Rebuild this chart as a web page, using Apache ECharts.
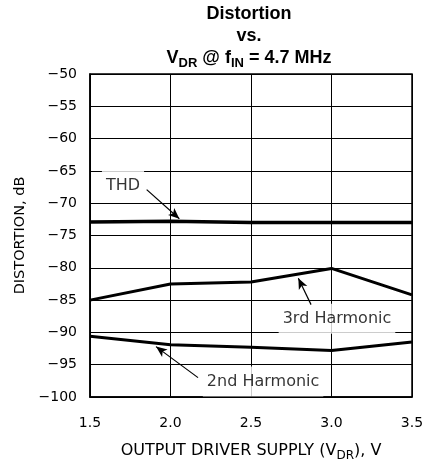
<!DOCTYPE html>
<html>
<head>
<meta charset="utf-8">
<script src="https://cdn.jsdelivr.net/npm/echarts@6/dist/echarts.min.js"></script>
<style>
  html, body { margin: 0; padding: 0; background: #fff; }
  #showChart { width: 427px; height: 472px; }
</style>
</head>
<body>
<div id="showChart"></div>
<script>
// supply voltage, V
var supply = [1.5, 2.0, 2.5, 3.0, 3.5];
// distortion, dB
var thd = [-72.9, -72.8, -73.0, -73.0, -73.0];
var harm3 = [-85.0, -82.5, -82.2, -80.1, -84.2];
var harm2 = [-90.6, -91.9, -92.3, -92.8, -91.5];

// curve labels and their arrows (tail -> head), in data units
var noteText = ['THD', '3rd Harmonic', '2nd Harmonic'];
var noteAt = [[1.705, -67.3], [3.034, -87.9], [2.575, -97.6]];
var arrowFrom = [[1.852, -67.9], [2.873, -85.7], [2.171, -97.0]];
var arrowTo = [[2.055, -72.4], [2.794, -81.6], [1.91, -92.2]];

var axisFont = 'DejaVu Sans';

function pairs(xs, ys) {
    return xs.map(function (x, i) { return [x, ys[i]]; });
}

var arrows = arrowFrom.map(function (p, i) {
    return [{coord: p}, {coord: arrowTo[i]}];
});

var option1 = {
    animation: false,
    title: {
        left: 249,
        textAlign: 'center',
        top: 3,
        padding: 0,
        text: '{b|Distortion}\n{b|vs.}\n{b|V}{s|DR}{b| @ f}{s|IN}{b| = 4.7 MHz}',
        textStyle: {
            rich: {
                b: {fontFamily: 'Liberation Sans', fontWeight: 'bold', fontSize: 18, lineHeight: 22, color: '#000'},
                s: {fontFamily: 'Liberation Sans', fontWeight: 'bold', fontSize: 13, lineHeight: 22, color: '#000', padding: [10, 0, 0, 0]}
            }
        }
    },
    grid: {
        left: 90, right: 15, top: 74, bottom: 75,
        show: true, borderColor: '#000', borderWidth: 1.5
    },
    xAxis: {
        type: 'value',
        min: 1.5, max: 3.5, interval: 0.5,
        name: '{n|OUTPUT DRIVER SUPPLY (V}{s|DR}{n|), V}',
        nameLocation: 'middle',
        nameGap: 44,
        nameTextStyle: {
            rich: {
                n: {fontFamily: axisFont, fontSize: 16, color: '#000', lineHeight: 20},
                s: {fontFamily: axisFont, fontSize: 12, color: '#000', lineHeight: 20, padding: [9, 0, 0, 0]}
            }
        },
        axisLine: {show: true, lineStyle: {color: '#000', width: 1.5}},
        axisTick: {show: false},
        axisLabel: {
            margin: 19, color: '#000', fontFamily: axisFont, fontSize: 14,
            formatter: function (v) { return v.toFixed(1); }
        },
        splitLine: {show: true, lineStyle: {color: '#000', width: 1}}
    },
    yAxis: {
        type: 'value',
        min: -100, max: -50, interval: 5,
        name: 'DISTORTION, dB',
        nameLocation: 'middle',
        nameGap: 62,
        nameTextStyle: {fontFamily: axisFont, fontSize: 14.5, color: '#000'},
        axisLine: {show: true, lineStyle: {color: '#000', width: 1.5}},
        axisTick: {show: false},
        axisLabel: {
            margin: 13, color: '#000', fontFamily: axisFont, fontSize: 14,
            formatter: function (v) { return String(v).replace('-', '\u2212'); }
        },
        splitLine: {show: true, lineStyle: {color: '#000', width: 1}}
    },
    series: [
        {
            name: 'THD', type: 'line', data: pairs(supply, thd),
            showSymbol: false, lineStyle: {color: '#000', width: 3.5}, z: 3
        },
        {
            name: '3rd Harmonic', type: 'line', data: pairs(supply, harm3),
            showSymbol: false, lineStyle: {color: '#000', width: 3}, z: 3
        },
        {
            name: '2nd Harmonic', type: 'line', data: pairs(supply, harm2),
            showSymbol: false, lineStyle: {color: '#000', width: 3}, z: 3
        },
        {
            name: 'notes', type: 'scatter', symbolSize: 0, z: 2,
            data: noteAt.map(function (p, i) { return {value: p, name: noteText[i]}; }),
            label: {
                show: true, position: 'inside', formatter: '{b}',
                color: '#000', fontFamily: axisFont, fontSize: 16,
                backgroundColor: '#fff', padding: [7, 4]
            },
            markLine: {
                silent: true,
                symbol: ['none', 'arrow'],
                symbolSize: [7, 11],
                label: {show: false},
                lineStyle: {color: '#000', width: 1.2, type: 'solid'},
                data: arrows
            }
        }
    ]
};

var chartOutChar = echarts.init(document.getElementById('showChart'));
chartOutChar.setOption(option1);
</script>
</body>
</html>
